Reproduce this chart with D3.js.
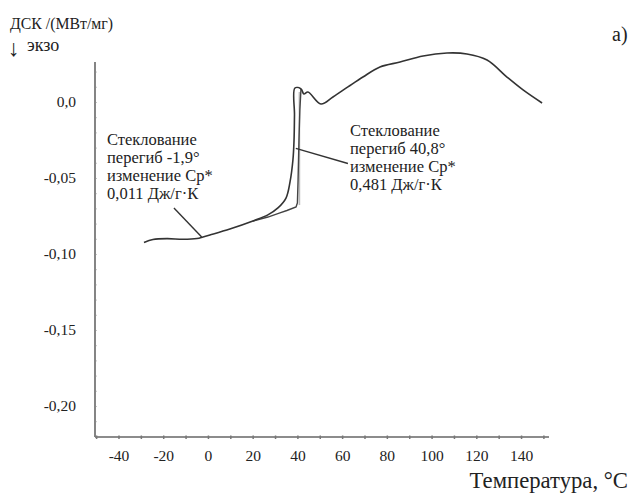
<!DOCTYPE html>
<html><head><meta charset="utf-8">
<script src="https://cdn.jsdelivr.net/npm/d3@7"></script>
<style>body{margin:0;background:#fff}svg{display:block}</style>
</head><body>
<svg id="c" width="631" height="493"></svg>
<script>
// main DSC curve: temperature (°C), heat flow (mW/mg)
const mainT = [-28.6,-24.6,-18.3,-11.2,-4.9,-2.2,0.9,9.8,20.1,26.8,31.3,34.9,36.7,38.0,38.5,38.7,38.9,41.6,42.9,44.7,50.5,55.9,62.6,69.3,76.9,85.9,96.2,106.9,115.8,124.8,133.7,140.9,149.4];
const mainV = [-0.0924,-0.0905,-0.0899,-0.0903,-0.0898,-0.0888,-0.0875,-0.0836,-0.0783,-0.0743,-0.0697,-0.0632,-0.0526,-0.0382,-0.0250,-0.0086,0.0092,0.0086,0.0053,0.0066,-0.0013,0.0033,0.0099,0.0164,0.0230,0.0263,0.0303,0.0322,0.0316,0.0276,0.0164,0.0079,-0.0007];
// lower branch of the transition loop
const loopT = [20.1,26.8,32.2,35.3,39.4,40.0,40.3,40.7,41.1,41.6];
const loopV = [-0.0783,-0.0757,-0.0730,-0.0714,-0.0691,-0.0664,-0.0513,-0.0250,-0.0053,0.0086];
// light vertical trace
const greyT = [40.9,40.9];
const greyV = [-0.0678,0.0066];
const xTicks = [-40,-20,0,20,40,60,80,100,120,140];
const xMinor = [-50,-40,-30,-20,-10,0,10,20,30,40,50,60,70,80,90,100,110,120,130,140,150];
const yTicks = [0,-0.05,-0.10,-0.15,-0.20];
const yTickLabels = ["0,0","-0,05","-0,10","-0,15","-0,20"];
const ann1 = ["Стеклование","перегиб -1,9°","изменение Cp*","0,011 Дж/г·К"];
const ann2 = ["Стеклование","перегиб 40,8°","изменение Cp*","0,481 Дж/г·К"];
// annotation leader endpoints in data units [T, V]
const lead1 = [[-15.2,-0.0698],[-2.8,-0.0888]];
const lead2 = [[39.3,-0.0305],[62.6,-0.0405]];

const FF = '"Liberation Serif", "Times New Roman", serif';
const svg = d3.select("#c");
const x = d3.scaleLinear().domain([-50.5,152.5]).range([95,549]);
const y = d3.scaleLinear().domain([-0.2204,0.0263]).range([437,62]);

// axes
const ax = svg.append("g").attr("stroke","#666").attr("stroke-width",1.6).attr("fill","none");
ax.append("line").attr("x1",x(-50.5)).attr("x2",x(-50.5)).attr("y1",y(0.0263)).attr("y2",y(-0.2204));
ax.append("line").attr("x1",x(-50.5)).attr("x2",x(152.5)).attr("y1",y(-0.2204)).attr("y2",y(-0.2204));
const xa = svg.append("g").attr("transform",`translate(0,${y(-0.2204)})`)
  .call(d3.axisBottom(x).tickValues(xMinor).tickSize(2).tickFormat(""));
xa.select(".domain").remove();
xa.selectAll(".tick line").attr("stroke","#777").attr("stroke-width",1.5).attr("y1",-1.5);
const xl = svg.append("g").attr("transform",`translate(0,${y(-0.2204)})`)
  .call(d3.axisBottom(x).tickValues(xTicks).tickSize(0).tickPadding(13).tickFormat(d=>String(d)));
xl.select(".domain").remove();
xl.selectAll("text").attr("fill","#222").style("font-size","15.5px").style("font-family",FF);

const yMinor = d3.range(-0.22,0.026,0.01);
const ya = svg.append("g").attr("transform",`translate(${x(-50.5)},0)`)
  .call(d3.axisLeft(y).tickValues(yMinor).tickSize(1.5).tickFormat(""));
ya.select(".domain").remove();
ya.selectAll(".tick line").attr("stroke","#888").attr("x2",1.5);
const yl = svg.append("g").attr("transform",`translate(${x(-50.5)},0)`)
  .call(d3.axisLeft(y).tickValues(yTicks).tickSize(0).tickPadding(19).tickFormat((d,i)=>yTickLabels[i]));
yl.select(".domain").remove();
yl.selectAll("text").attr("fill","#222").style("font-size","15.5px").style("font-family",FF);

// curves
const line = d3.line().x(d=>x(d[0])).y(d=>y(d[1])).curve(d3.curveCatmullRom.alpha(0.5));
const lineL = d3.line().x(d=>x(d[0])).y(d=>y(d[1]));
svg.append("path").datum(greyT.map((t,i)=>[t,greyV[i]])).attr("d",lineL)
  .attr("fill","none").attr("stroke","#bbb").attr("stroke-width",1.6);
svg.append("path").datum(loopT.map((t,i)=>[t,loopV[i]])).attr("d",lineL)
  .attr("fill","none").attr("stroke","#444").attr("stroke-width",1.4);
svg.append("path").datum(mainT.map((t,i)=>[t,mainV[i]])).attr("d",line)
  .attr("fill","none").attr("stroke","#333").attr("stroke-width",1.6).attr("stroke-linejoin","round");

// leaders
[lead1,lead2].forEach(l=>{
  svg.append("line").attr("x1",x(l[0][0])).attr("y1",y(l[0][1])).attr("x2",x(l[1][0])).attr("y2",y(l[1][1]))
    .attr("stroke","#333").attr("stroke-width",1.4);
});

function txt(s,x0,y0,size,anchor){
  return svg.append("text").attr("x",x0).attr("y",y0).attr("fill","#222")
    .attr("text-anchor",anchor||"start").style("font-size",size+"px").style("font-family",FF).text(s);
}
// annotation text
function block(lines,x0,y0){
  const t = svg.append("text").attr("fill","#222").style("font-size","16.5px").style("font-family",FF);
  lines.forEach((s,i)=>t.append("tspan").attr("x",x0).attr("y",y0+i*18).text(s));
}
block(ann1,107,145);
block(ann2,350,136);

// titles
txt("ДСК /(МВт/мг)",10,28.5,15.8);
txt("↓",8,56,23);
txt("экзо",27,50.5,18);
txt("а)",612,41,20);
txt("Температура, °C",628,488,22.7,"end");
</script>
</body></html>
